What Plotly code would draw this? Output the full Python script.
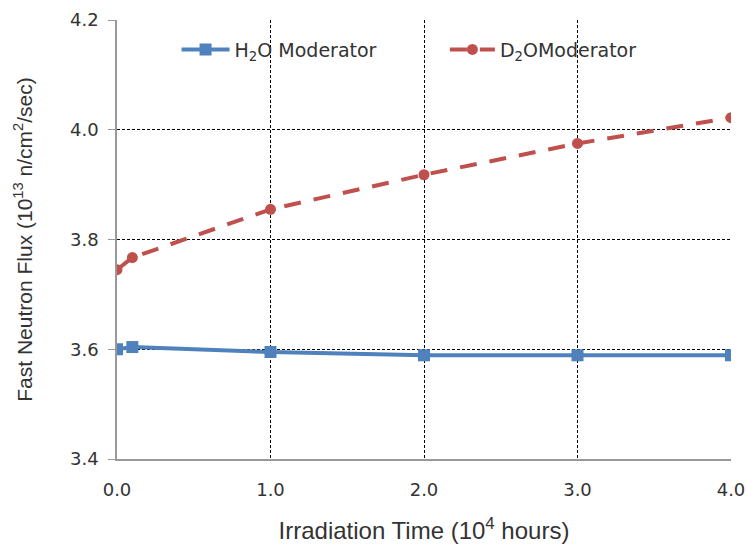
import plotly.graph_objects as go

time_h2o = [0.0, 0.1, 1.0, 2.0, 3.0, 4.0]
flux_h2o = [3.600, 3.604, 3.595, 3.589, 3.589, 3.589]
time_d2o = [0.0, 0.1, 1.0, 2.0, 3.0, 4.0]
flux_d2o = [3.745, 3.767, 3.855, 3.918, 3.975, 4.022]
x_ticks = [0.0, 1.0, 2.0, 3.0, 4.0]
x_tick_labels = ["0.0", "1.0", "2.0", "3.0", "4.0"]
y_ticks = [3.4, 3.6, 3.8, 4.0, 4.2]
y_tick_labels = ["3.4", "3.6", "3.8", "4.0", "4.2"]

fig = go.Figure()
fig.add_trace(go.Scatter(
    x=time_h2o, y=flux_h2o, mode="lines+markers",
    name="H<sub>2</sub>O Moderator", legend="legend",
    line=dict(color="#4F81BD", width=4),
    marker=dict(symbol="square", size=12, color="#4F81BD"),
))
fig.add_trace(go.Scatter(
    x=time_d2o, y=flux_d2o, mode="lines+markers",
    name="D<sub>2</sub>OModerator", legend="legend2",
    line=dict(color="#C0504D", width=4, dash="17px,13px"),
    marker=dict(symbol="circle", size=11, color="#C0504D"),
))

leg_font = dict(size=19, family="DejaVu Sans, sans-serif", color="#333")
fig.update_layout(
    width=747, height=550,
    margin=dict(l=117, r=16, t=20, b=91),
    paper_bgcolor="white", plot_bgcolor="white",
    font=dict(family="Liberation Sans, Arial, sans-serif", size=18, color="#333"),
    showlegend=True,
    legend=dict(x=0.097, y=0.976, xanchor="left", yanchor="top",
                bgcolor="rgba(255,255,255,0)", font=leg_font, itemwidth=48),
    legend2=dict(x=0.534, y=0.976, xanchor="left", yanchor="top",
                 bgcolor="rgba(255,255,255,0)", font=leg_font, itemwidth=45),
    xaxis=dict(
        range=[0, 4], tickvals=x_ticks, ticktext=x_tick_labels,
        tickfont=dict(size=18, family="DejaVu Sans, sans-serif"),
        ticklabelstandoff=14, automargin=False,
        showgrid=True, gridcolor="black", griddash="3px,2px", gridwidth=1,
        showline=True, linecolor="#999", linewidth=1.5, zeroline=False,
        ticks="", title=dict(text="Irradiation Time (10<sup>4</sup> hours)", standoff=23,
                             font=dict(size=24)),
    ),
    yaxis=dict(
        range=[3.4, 4.2], tickvals=y_ticks, ticktext=y_tick_labels,
        tickfont=dict(size=18, family="DejaVu Sans, sans-serif"),
        ticklabelstandoff=6, automargin=False,
        showgrid=True, gridcolor="black", griddash="3px,2px", gridwidth=1,
        showline=True, linecolor="#999", linewidth=1.5, zeroline=False,
        ticks="outside", ticklen=7, tickcolor="#999",
        title=dict(text="Fast Neutron Flux (10<sup>13</sup> n/cm<sup>2</sup>/sec)", standoff=32,
                   font=dict(size=21)),
    ),
)

fig.write_html("out.html")
